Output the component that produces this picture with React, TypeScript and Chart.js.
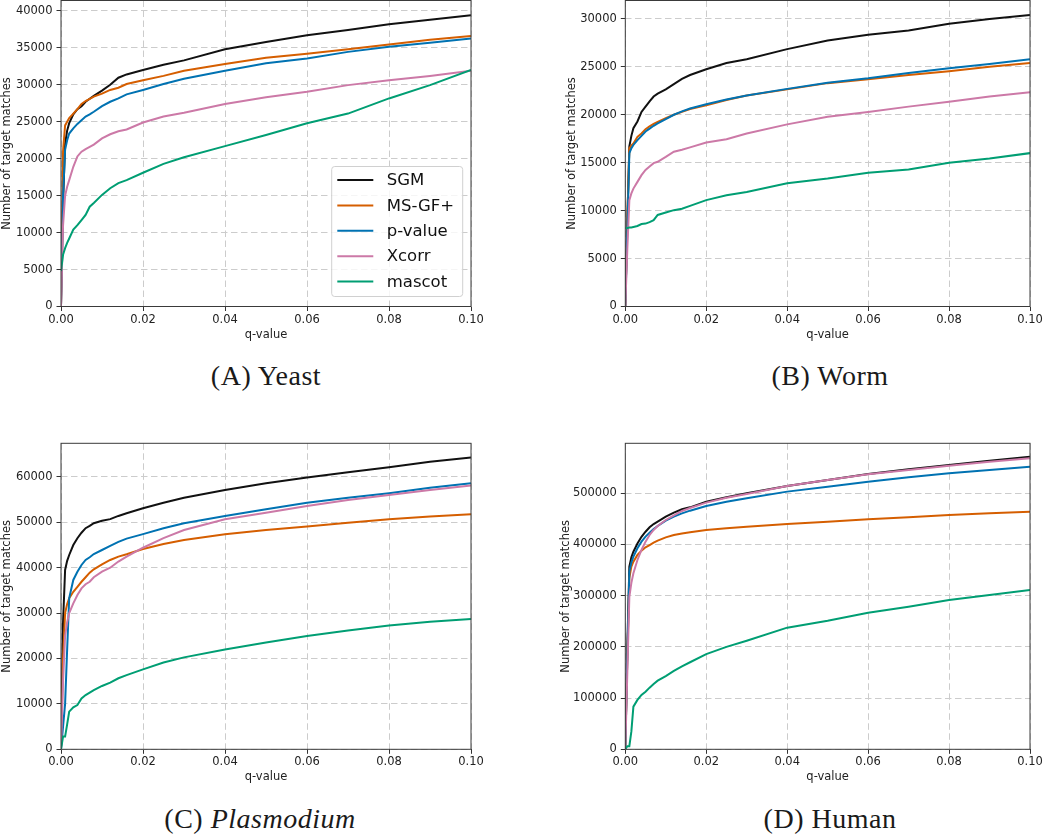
import React, { useEffect, useRef } from "react";
import { Chart, registerables } from "chart.js";

Chart.register(...registerables);
Chart.defaults.font.family = "'DejaVu Sans', sans-serif";
Chart.defaults.color = "#222222";

// ---------- data ----------
const Q = [0, 0.0005, 0.001, 0.0015, 0.002, 0.003, 0.004, 0.005, 0.006, 0.007, 0.008, 0.01, 0.012, 0.014, 0.016, 0.02, 0.025, 0.03, 0.04, 0.05, 0.06, 0.07, 0.08, 0.09, 0.1];
const SERIES = ["SGM", "MS-GF+", "p-value", "Xcorr", "mascot"];
const COLORS = ["#111111", "#d55e00", "#0072b2", "#cc79a7", "#009e73"];
const X_TICKS = [0, 0.02, 0.04, 0.06, 0.08, 0.1];
const X_TITLE = "q-value";
const Y_TITLE = "Number of target matches";

const YEAST_Y_TICKS = [0, 5000, 10000, 15000, 20000, 25000, 30000, 35000, 40000];
const WORM_Y_TICKS = [0, 5000, 10000, 15000, 20000, 25000, 30000];
const PLASMO_Y_TICKS = [0, 10000, 20000, 30000, 40000, 50000, 60000];
const HUMAN_Y_TICKS = [0, 100000, 200000, 300000, 400000, 500000];

// (A) Yeast
const YEAST_SGM = [0, 14000, 22000, 23800, 24800, 26000, 26700, 27100, 27700, 28100, 28500, 29200, 30000, 30950, 31400, 32000, 32700, 33300, 34800, 35800, 36700, 37400, 38200, 38800, 39400];
const YEAST_MSGF = [0, 21000, 24500, 25000, 25500, 26100, 26700, 27400, 27800, 28100, 28400, 28800, 29300, 29600, 30100, 30600, 31200, 31900, 32800, 33650, 34200, 34800, 35450, 36100, 36600];
const YEAST_PVAL = [0, 15000, 21200, 22500, 23400, 24100, 24700, 25200, 25700, 26000, 26350, 27100, 27700, 28150, 28700, 29300, 30100, 30800, 31900, 32900, 33550, 34450, 35150, 35700, 36250];
const YEAST_XCORR = [0, 11000, 15000, 16200, 17100, 18900, 20300, 20950, 21300, 21600, 21900, 22750, 23300, 23700, 23950, 24900, 25700, 26200, 27400, 28300, 29050, 29950, 30600, 31200, 31900];
const YEAST_MASCOT = [4800, 7000, 7900, 8600, 9200, 10400, 11000, 11700, 12400, 13500, 14000, 15100, 16000, 16700, 17100, 18100, 19300, 20200, 21700, 23200, 24800, 26100, 28150, 29950, 32000];

// (B) Worm
const WORM_SGM = [0, 9000, 16700, 17800, 18600, 19300, 20300, 20850, 21400, 21900, 22200, 22650, 23200, 23750, 24150, 24750, 25400, 25800, 26850, 27750, 28350, 28800, 29500, 30000, 30400];
const WORM_MSGF = [0, 9000, 16500, 16800, 17000, 17700, 18050, 18500, 18800, 19050, 19250, 19650, 20000, 20300, 20600, 21000, 21550, 22000, 22650, 23300, 23700, 24150, 24550, 25000, 25400];
const WORM_PVAL = [0, 8000, 16000, 16500, 16850, 17350, 17800, 18250, 18550, 18850, 19100, 19550, 20000, 20350, 20650, 21100, 21600, 22000, 22700, 23350, 23800, 24350, 24850, 25300, 25800];
const WORM_XCORR = [0, 6000, 11100, 11800, 12300, 13000, 13700, 14250, 14600, 14950, 15100, 15600, 16150, 16350, 16600, 17100, 17450, 18050, 19000, 19800, 20300, 20850, 21350, 21900, 22350];
const WORM_MASCOT = [8200, 8200, 8250, 8250, 8300, 8400, 8600, 8650, 8800, 9000, 9550, 9800, 10050, 10200, 10500, 11100, 11600, 11950, 12850, 13350, 13950, 14300, 15000, 15450, 16000];

// (C) Plasmodium
const PLASMO_SGM = [0, 28000, 39500, 41500, 42800, 45000, 46500, 47700, 48700, 49200, 49800, 50350, 50700, 51400, 52000, 53100, 54300, 55400, 57100, 58600, 59850, 61000, 62100, 63350, 64250];
const PLASMO_MSGF = [0, 20000, 30000, 32000, 33300, 34700, 35800, 36900, 37900, 38900, 39650, 40750, 41700, 42450, 42950, 44100, 45200, 46100, 47350, 48300, 49050, 49900, 50650, 51250, 51750];
const PLASMO_PVAL = [0, 5000, 10000, 22000, 33300, 37300, 39100, 40600, 41700, 42300, 43000, 43900, 44800, 45700, 46400, 47400, 48700, 49800, 51400, 52850, 54300, 55400, 56400, 57600, 58600];
const PLASMO_XCORR = [0, 15000, 25000, 28000, 30000, 32150, 34000, 35450, 36350, 36900, 37900, 39150, 40000, 41350, 42450, 44400, 46500, 48300, 50650, 52100, 53600, 54900, 56000, 57100, 58100];
const PLASMO_MASCOT = [0, 2800, 2800, 5500, 8300, 9250, 9750, 11200, 11950, 12500, 13050, 13950, 14700, 15650, 16350, 17600, 19100, 20250, 22000, 23500, 24950, 26150, 27250, 28100, 28700];

// (D) Human
const HUMAN_SGM = [0, 200000, 356800, 375000, 386000, 402000, 415000, 425000, 433600, 440000, 444700, 454400, 462200, 468750, 472650, 483700, 492200, 500000, 514300, 526000, 537800, 546900, 555300, 563800, 571600];
const HUMAN_MSGF = [0, 180000, 335000, 357000, 366500, 379600, 388000, 394500, 399000, 403600, 407500, 414000, 418600, 421500, 424000, 428400, 431600, 434900, 440100, 444700, 449200, 453100, 457700, 461000, 464200];
const HUMAN_PVAL = [0, 180000, 347000, 365000, 376300, 392600, 405600, 415400, 423200, 430300, 436200, 446600, 454400, 460900, 466100, 475300, 483700, 490200, 503300, 513000, 522800, 531200, 539000, 545600, 552100];
const HUMAN_XCORR = [0, 150000, 298000, 325000, 343750, 369800, 389300, 405600, 418600, 428400, 436200, 447900, 457000, 465500, 471400, 481800, 491500, 498700, 514300, 526000, 537100, 545600, 554000, 561800, 568400];
const HUMAN_MASCOT = [0, 6000, 6000, 35000, 83300, 96400, 106100, 112600, 120400, 127600, 134000, 143000, 153000, 162000, 170000, 186000, 200000, 212000, 237600, 251300, 266900, 278600, 291700, 301400, 311200];

type PanelCfg = {
  left: number; top: number; width: number; height: number;
  padL: number; padR: number; padT: number; padB: number;
  yW: number; xH: number; yMax: number; yTicks: number[];
  series: number[][]; legend: boolean;
};

const PANELS: PanelCfg[] = [
  { left: 0, top: 0, width: 520, height: 345, padL: 0, padR: 49, padT: 0.5, padB: 3.3, yW: 61, xH: 35.2, yMax: 41400, yTicks: YEAST_Y_TICKS,
    series: [YEAST_SGM, YEAST_MSGF, YEAST_PVAL, YEAST_XCORR, YEAST_MASCOT], legend: true },
  { left: 520, top: 0, width: 530, height: 345, padL: 45.6, padR: 20, padT: 0.5, padB: 3.3, yW: 59.7, xH: 35.2, yMax: 31920, yTicks: WORM_Y_TICKS,
    series: [WORM_SGM, WORM_MSGF, WORM_PVAL, WORM_XCORR, WORM_MASCOT], legend: false },
  { left: 0, top: 420, width: 520, height: 370, padL: 0, padR: 49, padT: 23.3, padB: 5.7, yW: 61, xH: 35, yMax: 67400, yTicks: PLASMO_Y_TICKS,
    series: [PLASMO_SGM, PLASMO_MSGF, PLASMO_PVAL, PLASMO_XCORR, PLASMO_MASCOT], legend: false },
  { left: 520, top: 420, width: 530, height: 370, padL: 38.9, padR: 20, padT: 23.3, padB: 5.7, yW: 66.4, xH: 35, yMax: 597700, yTicks: HUMAN_Y_TICKS,
    series: [HUMAN_SGM, HUMAN_MSGF, HUMAN_PVAL, HUMAN_XCORR, HUMAN_MASCOT], legend: false },
];

const framePlugin = {
  id: "frame",
  afterDatasetsDraw(chart: any) {
    const { ctx, chartArea: a } = chart;
    ctx.save();
    ctx.strokeStyle = "#3a3a3a";
    ctx.lineWidth = 1;
    ctx.setLineDash([]);
    ctx.strokeRect(a.left, a.top, a.right - a.left, a.bottom - a.top);
    ctx.restore();
  },
};

function makeLegendPlugin(show: boolean) {
  return {
    id: "insideLegend",
    afterDraw(chart: any) {
      if (!show) return;
      const { ctx, chartArea: a } = chart;
      const w = 131, h = 130;
      const x = a.right - 8.3 - w;
      const y = a.bottom - 10 - h;
      ctx.save();
      ctx.beginPath();
      const r = 3;
      ctx.moveTo(x + r, y);
      ctx.lineTo(x + w - r, y);
      ctx.quadraticCurveTo(x + w, y, x + w, y + r);
      ctx.lineTo(x + w, y + h - r);
      ctx.quadraticCurveTo(x + w, y + h, x + w - r, y + h);
      ctx.lineTo(x + r, y + h);
      ctx.quadraticCurveTo(x, y + h, x, y + h - r);
      ctx.lineTo(x, y + r);
      ctx.quadraticCurveTo(x, y, x + r, y);
      ctx.closePath();
      ctx.fillStyle = "rgba(255,255,255,0.8)";
      ctx.fill();
      ctx.strokeStyle = "#d0d0d0";
      ctx.lineWidth = 1;
      ctx.stroke();
      ctx.font = "16.5px 'DejaVu Sans', sans-serif";
      ctx.textBaseline = "middle";
      ctx.textAlign = "left";
      SERIES.forEach((name, i) => {
        const cy = y + 13.5 + i * 25.4;
        ctx.beginPath();
        ctx.moveTo(x + 5.6, cy);
        ctx.lineTo(x + 41.6, cy);
        ctx.strokeStyle = COLORS[i];
        ctx.lineWidth = 2;
        ctx.stroke();
        ctx.fillStyle = "#111111";
        ctx.fillText(name, x + 55, cy + 1);
      });
      ctx.restore();
    },
  };
}

function Panel({ cfg }: { cfg: PanelCfg }) {
  const ref = useRef<HTMLCanvasElement>(null);
  useEffect(() => {
    const canvas = ref.current!;
    const datasets = cfg.series.map((vals, i) => ({
      label: SERIES[i],
      data: Q.map((q, j) => ({ x: q, y: vals[j] })),
      borderColor: COLORS[i],
      backgroundColor: COLORS[i],
      borderWidth: 2,
      pointRadius: 0,
      tension: 0,
      fill: false,
      order: SERIES.length - i,
    }));
    const tickFont = { size: 11.5, family: "'DejaVu Sans', sans-serif" };
    const chart = new Chart(canvas, {
      type: "line",
      data: { datasets },
      options: {
        animation: false,
        responsive: false,
        maintainAspectRatio: false,
        events: [],
        layout: { padding: { left: cfg.padL, right: cfg.padR, top: cfg.padT, bottom: cfg.padB } },
        plugins: { legend: { display: false }, tooltip: { enabled: false } },
        scales: {
          x: {
            type: "linear",
            min: 0,
            max: 0.1,
            afterBuildTicks: (s: any) => { s.ticks = X_TICKS.map((v) => ({ value: v })); },
            afterFit: (s: any) => { s.height = cfg.xH; s.paddingLeft = 0; s.paddingRight = 0; },
            ticks: { callback: (v: any) => Number(v).toFixed(2), font: tickFont, color: "#222", padding: 1.7, maxRotation: 0, autoSkip: false },
            grid: { color: "#cccccc", lineWidth: 1, tickColor: "#333", tickLength: 4.5, tickWidth: 1, tickBorderDash: [] },
            border: { display: false, dash: [6.5, 3.5] },
            title: { display: true, text: X_TITLE, font: tickFont, color: "#222", padding: 0 },
          },
          y: {
            type: "linear",
            min: 0,
            max: cfg.yMax,
            afterBuildTicks: (s: any) => { s.ticks = cfg.yTicks.map((v) => ({ value: v })); },
            afterFit: (s: any) => { s.width = cfg.yW; s.paddingTop = 0; s.paddingBottom = 0; },
            ticks: { callback: (v: any) => String(v), font: tickFont, color: "#222", padding: 4, autoSkip: false },
            grid: { color: "#cccccc", lineWidth: 1, tickColor: "#333", tickLength: 4.5, tickWidth: 1, tickBorderDash: [] },
            border: { display: false, dash: [6.5, 3.5] },
            title: { display: true, text: Y_TITLE, font: tickFont, color: "#222", padding: 0 },
          },
        },
      } as any,
      plugins: [framePlugin, makeLegendPlugin(cfg.legend)],
    });
    return () => chart.destroy();
  }, []);
  return (
    <div style={{ position: "absolute", left: cfg.left, top: cfg.top, width: cfg.width, height: cfg.height }}>
      <canvas ref={ref} width={cfg.width} height={cfg.height} style={{ width: cfg.width, height: cfg.height, display: "block" }} />
    </div>
  );
}

const CAPTIONS = [
  { cx: 266, top: 362, label: "(A) ", name: "Yeast", italic: false },
  { cx: 830, top: 362, label: "(B) ", name: "Worm", italic: false },
  { cx: 260, top: 804.9, label: "(C) ", name: "Plasmodium", italic: true },
  { cx: 830, top: 804.9, label: "(D) ", name: "Human", italic: false },
];

export default function App() {
  return (
    <div style={{ position: "fixed", left: 0, top: 0, width: 1050, height: 834, background: "#ffffff", overflow: "hidden" }}>
      {PANELS.map((p, i) => <Panel key={i} cfg={p} />)}
      {CAPTIONS.map((c, i) => (
        <div key={"c" + i} style={{ position: "absolute", left: c.cx - 200, top: c.top, width: 400, textAlign: "center",
          fontFamily: "'Liberation Serif', serif", fontSize: 28, letterSpacing: 0.5, lineHeight: 1, color: "#1a1a1a", whiteSpace: "nowrap" }}>
          {c.label}{c.italic ? <i>{c.name}</i> : c.name}
        </div>
      ))}
    </div>
  );
}
